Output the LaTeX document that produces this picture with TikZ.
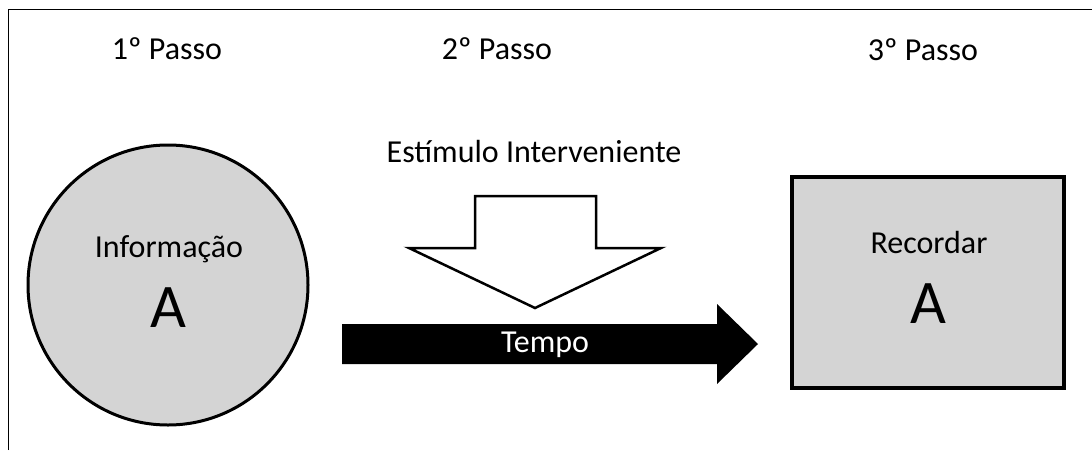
\documentclass[tikz,border=0pt]{standalone}
\usepackage{fontspec}
\setmainfont{Carlito}
\usetikzlibrary{positioning}
\definecolor{cinza}{RGB}{212,212,212}

\begin{document}
\begin{tikzpicture}[x=0.5pt,y=-0.5pt,txt/.style={anchor=base,inner sep=0pt,font=\fontsize{16}{19}\selectfont},letra/.style={anchor=base,inner sep=0pt,font=\fontsize{31}{36}\selectfont},forma/.style={draw,fill=cinza,inner sep=0pt}]
            \useasboundingbox (0,0) rectangle (1092,450);
            \draw[line width=0.5pt] (8,450) -- (8,9) -- (1092,9);
            
            \node[txt] (p1) at (167,59) {1º Passo};
            \node[txt] (p2) at (497,59) {2º Passo};
            \node[txt] (p3) at (923,60) {3º Passo};
            
            \node[forma,circle,line width=1.5pt,minimum size=140pt] (info) at (168,285) {};
            \node[forma,rectangle,line width=1.75pt,minimum width=136pt,minimum height=105.5pt] (rec) at (928,282.5) {};
            
            \draw[line width=1.25pt,fill=white,line join=miter] (475,196) -- (596,196) -- (596,248) -- (661,248) -- (535,308) -- (409,248) -- (475,248) -- cycle;
            \fill[black] (342,324) -- (717,324) -- (717,304) -- (758,344) -- (717,384) -- (717,364) -- (342,364) -- cycle;
            
            \node[txt] (est) at (534,162) {Estímulo Interveniente};
            \node[txt] (inf) at (169,257) {Informação};
            \node[letra] (a1) at (168,327) {A};
            \node[txt] (rcd) at (929,253) {Recordar};
            \node[letra] (a2) at (928,323) {A};
            \node[txt,text=white] (tmp) at (545,352) {Tempo};
\end{tikzpicture}
\end{document}
